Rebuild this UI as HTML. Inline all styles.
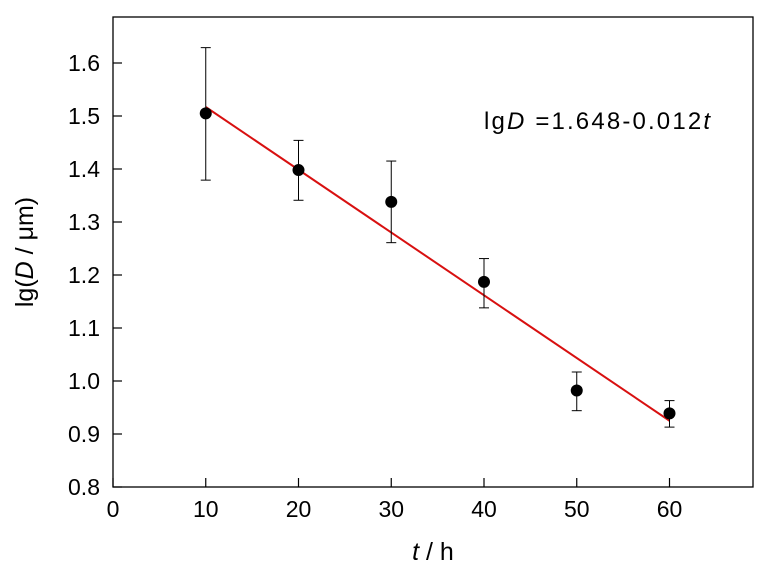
<!DOCTYPE html>
<html><head><meta charset="utf-8"><style>
body{margin:0;background:#fff;}
svg{display:block;font-family:"Liberation Sans",Arial,sans-serif;}
</style></head><body>
<svg id="chart" width="768" height="569" viewBox="0 0 768 569" xmlns="http://www.w3.org/2000/svg">
<g id="ticks"></g>
<g id="marks"></g>
<rect x="113" y="17" width="640" height="470" fill="none" stroke="#000" stroke-width="1.3"/>
<text transform="translate(33,252) rotate(-90)" text-anchor="middle" font-size="25">lg(<tspan font-style="italic">D</tspan> / μm)</text>
<text x="433" y="560" text-anchor="middle" font-size="25"><tspan font-style="italic">t</tspan> / h</text>
<text x="484" y="129" font-size="24" textLength="226" lengthAdjust="spacing">lg<tspan font-style="italic">D</tspan> =1.648-0.012<tspan font-style="italic">t</tspan></text>
</svg>
<script>
const xTicks=[0,10,20,30,40,50,60];
const yTicks=[0.8,0.9,1.0,1.1,1.2,1.3,1.4,1.5,1.6];
const tHours=[10,20,30,40,50,60];
const lgD=[1.505,1.398,1.338,1.187,0.982,0.939];
const errUpper=[1.629,1.454,1.415,1.231,1.017,0.963];
const errLower=[1.379,1.341,1.261,1.138,0.944,0.913];
const fitX=[10,60];
const fitY=[1.517,0.925];

const X=v=>113+(v-0)*(669.5-113)/60;
const Y=v=>487-(v-0.8)*(487-63)/0.8;
const NS="http://www.w3.org/2000/svg";
function mk(tag,attrs,parent){const e=document.createElementNS(NS,tag);for(const k in attrs)e.setAttribute(k,attrs[k]);parent.appendChild(e);return e;}
const tg=document.getElementById('ticks'),mg=document.getElementById('marks');
xTicks.forEach(v=>{
  const l=mk('line',{x1:X(v),x2:X(v),y1:487,y2:478,stroke:'#000','stroke-width':1.2},tg);
  
  
  const t=mk('text',{x:X(v),y:517,'text-anchor':'middle','font-size':23},tg);
  t.textContent=String(v);
  
  
});
yTicks.forEach(v=>{
  const l=mk('line',{x1:113,x2:122,y1:Y(v),y2:Y(v),stroke:'#000','stroke-width':1.2},tg);
  
  
  const t=mk('text',{x:100,y:Y(v)+8,'text-anchor':'end','font-size':23},tg);
  t.textContent=v.toFixed(1);
  
  
});
const fl=mk('line',{x1:X(fitX[0]),y1:Y(fitY[0]),x2:X(fitX[1]),y2:Y(fitY[1]),stroke:'#d81010','stroke-width':2},mg);


tHours.forEach((t,i)=>{
  const x=X(t);
  const g=mk('g',{},mg);
  
  
  mk('line',{x1:x,x2:x,y1:Y(errUpper[i]),y2:Y(errLower[i]),stroke:'#000','stroke-width':1},g);
  mk('line',{x1:x-5,x2:x+5,y1:Y(errUpper[i]),y2:Y(errUpper[i]),stroke:'#000','stroke-width':1},g);
  mk('line',{x1:x-5,x2:x+5,y1:Y(errLower[i]),y2:Y(errLower[i]),stroke:'#000','stroke-width':1},g);
  const c=mk('circle',{cx:x,cy:Y(lgD[i]),r:6,fill:'#000'},mg);
  
  
});
</script>
</body></html>
